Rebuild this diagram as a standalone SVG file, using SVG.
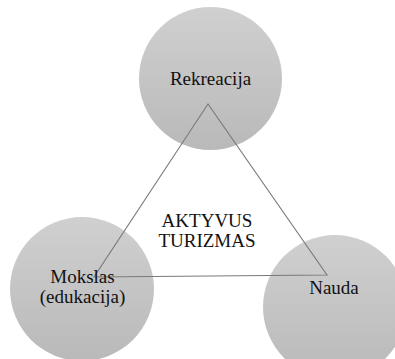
<svg xmlns="http://www.w3.org/2000/svg" width="395" height="359" viewBox="0 0 395 359">
<defs>
<linearGradient id="g" x1="0" y1="0" x2="0" y2="1">
<stop offset="0" stop-color="#d0d0d0"/>
<stop offset="1" stop-color="#b9b9b9"/>
</linearGradient>
<style>
.c{fill:url(#g);}
.t{font-family:"Liberation Serif","Times New Roman",serif;font-size:19px;fill:#111;text-anchor:middle;}
.l{fill:none;stroke:#7a7a7a;stroke-width:1.1;}
</style>
</defs>
<rect width="395" height="359" fill="#fff"/>
<g id="rekreacija"><circle class="c" cx="210.5" cy="78.5" r="71.5"/><text class="t" x="210.5" y="85">Rekreacija</text></g>
<g id="mokslas"><circle class="c" cx="82" cy="289" r="72"/></g>
<g id="nauda"><circle class="c" cx="335" cy="307" r="72"/></g>
<g id="connectors"><polygon class="l" points="208,104 94,277 327,275"/></g>
<g id="mokslas-label"><text class="t" x="82.5" y="283">Mokslas</text><text class="t" x="82.5" y="303">(edukacija)</text></g>
<g id="nauda-label"><text class="t" x="334" y="294">Nauda</text></g>
<g id="center"><text class="t" x="207" y="227">AKTYVUS</text><text class="t" x="207" y="247">TURIZMAS</text></g>
</svg>
